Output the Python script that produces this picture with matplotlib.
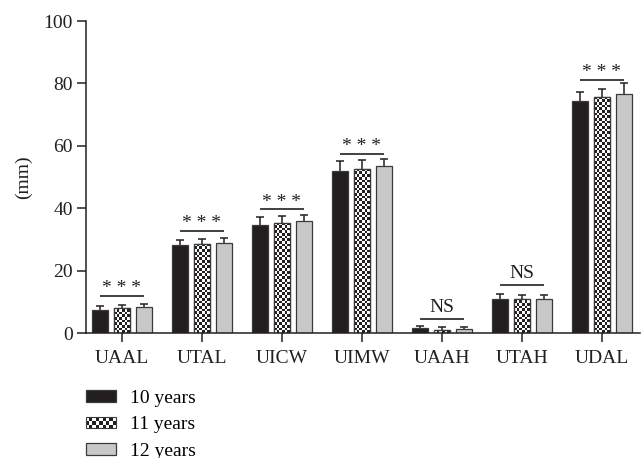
"""Grouped bar chart of upper airway measurements by age group."""

import numpy as np
import matplotlib
matplotlib.use('Agg')
import matplotlib.pyplot as plt
from matplotlib.colors import ListedColormap
from matplotlib.legend_handler import HandlerBase
from matplotlib.patches import Rectangle


CATEGORIES = ['UAAL', 'UTAL', 'UICW', 'UIMW', 'UAAH', 'UTAH', 'UDAL']
SERIES_LABELS = ['10 years', '11 years', '12 years']

MEAN_10 = [7.5, 28.2, 34.7, 52.0, 1.5, 10.9, 74.4]
MEAN_11 = [8.0, 28.6, 35.3, 52.7, 1.1, 11.0, 75.5]
MEAN_12 = [8.3, 28.8, 35.8, 53.5, 1.3, 10.8, 76.7]

ERR_10 = [1.3, 1.6, 2.6, 3.0, 0.7, 1.6, 2.8]
ERR_11 = [0.9, 1.5, 2.3, 2.6, 0.8, 1.3, 2.8]
ERR_12 = [1.1, 1.6, 2.1, 2.3, 0.7, 1.5, 3.3]

SIG_TEXT = ['* * *', '* * *', '* * *', '* * *', 'NS', 'NS', '* * *']
SIG_Y = [11.9, 32.8, 39.6, 57.5, 4.5, 15.4, 81.2]

Y_TICKS = [0, 20, 40, 60, 80, 100]

_DARK = '#231f20'
_GRAY = '#c7c8ca'
_EDGE = '#3a3a3a'
_FONT = 'Liberation Serif'
_FS = 14
_BAR_W = 0.195
_STEP = 0.275


class _CheckerHandler(HandlerBase):

    def create_artists(self, legend, orig_handle, xdescent, ydescent,
                       width, height, fontsize, trans):
        nx, ny = 9, 3
        cw, ch = width / nx, height / ny
        artists = []
        for i in range(nx):
            for j in range(ny):
                if (i + j) % 2:
                    artists.append(Rectangle(
                        (-xdescent + i * cw, -ydescent + j * ch), cw, ch,
                        facecolor=_DARK, edgecolor='none', transform=trans))
        artists.append(Rectangle(
            (-xdescent, -ydescent), width, height, facecolor='none',
            edgecolor=_EDGE, linewidth=0.8, transform=trans))
        return artists


def _checker_fill(ax, bars):
    # paint a checkerboard inside every bar, clipped to the bar outline
    cmap = ListedColormap(['white', _DARK])
    cell_h = 0.86
    for bar in bars:
        x0 = bar.get_x()
        w = bar.get_width()
        h = bar.get_height()
        rows = int(np.ceil(h / cell_h)) + 1
        grid = np.indices((rows, 6)).sum(axis=0) % 2
        im = ax.imshow(grid, cmap=cmap, interpolation='nearest',
                       aspect='auto', origin='lower',
                       extent=(x0, x0 + w, 0, rows * cell_h), zorder=2.5)
        im.set_clip_path(bar)


def _main():
    plt.rcParams['font.family'] = [_FONT, 'DejaVu Serif']

    fig = plt.figure(figsize=(6.42, 4.58), dpi=100)
    ax = fig.add_axes([86 / 642, 1 - 333 / 458, 554 / 642, 312 / 458])

    x = np.arange(len(CATEGORIES))
    means = [MEAN_10, MEAN_11, MEAN_12]
    errs = [ERR_10, ERR_11, ERR_12]
    faces = [_DARK, 'white', _GRAY]

    handles = []
    for k in range(3):
        pos = x + (k - 1) * _STEP
        ax.errorbar(pos, means[k], yerr=errs[k], fmt='none', ecolor=_DARK,
                    elinewidth=1.1, capsize=3, capthick=1.1, zorder=1)
        bars = ax.bar(pos, means[k], _BAR_W, color=faces[k],
                      edgecolor=_EDGE, linewidth=0.9, zorder=2)
        if k == 1:
            _checker_fill(ax, bars)
            ax.bar(pos, means[k], _BAR_W, facecolor='none',
                   edgecolor=_EDGE, linewidth=0.9, zorder=3)
        handles.append(bars)

    # significance brackets
    for xi, label, yi in zip(x, SIG_TEXT, SIG_Y):
        ax.plot([xi - 0.28, xi + 0.28], [yi, yi], color=_DARK, lw=1.2,
                solid_capstyle='butt')
        off = 2 if label == 'NS' else -1
        ax.annotate(label, (xi, yi), xytext=(0, off),
                    textcoords='offset points', ha='center', va='bottom',
                    fontsize=_FS, color=_DARK)

    ax.set_xlim(-0.45, 6.475)
    ax.set_ylim(0, 100)
    ax.set_yticks(Y_TICKS)
    ax.set_xticks(x)
    ax.set_xticklabels(CATEGORIES)
    ax.set_ylabel('(mm)', fontsize=_FS, color=_DARK, labelpad=8)

    for side in ['top', 'right']:
        ax.spines[side].set_visible(False)
    for side in ['left', 'bottom']:
        ax.spines[side].set_color(_DARK)
        ax.spines[side].set_linewidth(1.1)
    ax.tick_params(axis='both', colors=_DARK, labelsize=_FS, width=1.1,
                   length=6.5)
    ax.tick_params(axis='y', pad=3)
    ax.tick_params(axis='x', pad=6)

    fig.legend(handles, SERIES_LABELS, loc='upper left',
               bbox_to_anchor=(78 / 642, 1 - 382 / 458), frameon=False,
               fontsize=_FS, handlelength=1.55, handleheight=0.55,
               handletextpad=0.7, labelspacing=0.5, borderaxespad=0,
               handler_map={handles[1]: _CheckerHandler()})

    fig.savefig('out.png', dpi=100)


if __name__ == '__main__':
    _main()
